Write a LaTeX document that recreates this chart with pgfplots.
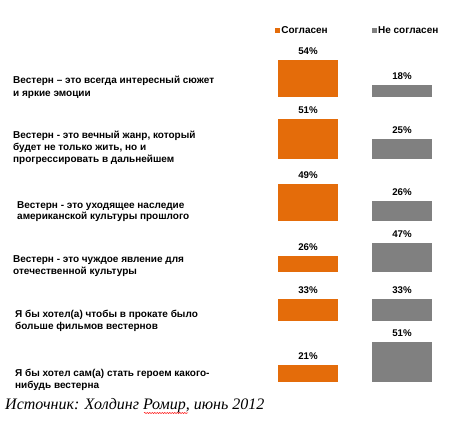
\documentclass[border=0pt]{standalone}
\usepackage{fontspec}
\setmainfont{Liberation Sans}
\newfontfamily\srcfont{Liberation Serif}
\usepackage{pgfplots}
\pgfplotsset{compat=1.18}
\usetikzlibrary{decorations.pathmorphing}
\definecolor{agree}{RGB}{228,108,10}
\definecolor{disagree}{RGB}{128,128,128}
\newcommand\lbl{\bfseries\fontsize{10bp}{12bp}\selectfont}
\pgfplotsset{
 rowbars/.style={
  ybar, bar shift=0pt, bar width=60bp,
  x=94bp, y=#1bp,
  xmin=-0.5, xmax=1.5, ymin=0, ymax=60,
  hide axis, clip=false, anchor=origin,
  /pgf/number format/assume math mode=true,
  nodes near coords={\pgfmathprintnumber{\pgfplotspointmeta}\%},
  nodes near coords style={font=\bfseries\fontsize{9.7bp}{11bp}\selectfont, anchor=base, inner sep=0pt, yshift=5.5bp, text=black},
  every axis plot/.append style={draw=none},
 },
}
\begin{document}
\begin{tikzpicture}
\useasboundingbox (0,0) rectangle (454bp,426bp);
% row 1
\begin{axis}[rowbars=0.678, at={(308bp,329bp)},
  legend columns=2,
  legend image code/.code={\fill[#1] (0bp,-2.5bp) rectangle (5bp,2.5bp);},
  legend style={draw=none, fill=none, inner sep=0pt, at={(0.0745,1.635)}, anchor=west,
    font=\bfseries\fontsize{10bp}{12bp}\selectfont, nodes={inner sep=1.2bp},
    /tikz/every even column/.append style={column sep=43bp}},
  legend cell align=left]
\addplot[fill=agree] coordinates {(0,54)};
\addplot[fill=disagree] coordinates {(1,18)};
\legend{Согласен, Не согласен}
\end{axis}
% row 2
\begin{axis}[rowbars=0.786, at={(308bp,267bp)}]
\addplot[fill=agree] coordinates {(0,51)};
\addplot[fill=disagree] coordinates {(1,25)};
\end{axis}
% row 3
\begin{axis}[rowbars=0.765, at={(308bp,205bp)}]
\addplot[fill=agree] coordinates {(0,49)};
\addplot[fill=disagree] coordinates {(1,26)};
\end{axis}
% row 4
\begin{axis}[rowbars=0.615, at={(308bp,154bp)}]
\addplot[fill=agree] coordinates {(0,26)};
\addplot[fill=disagree] coordinates {(1,47)};
\end{axis}
% row 5
\begin{axis}[rowbars=0.667, at={(308bp,105bp)}]
\addplot[fill=agree] coordinates {(0,33)};
\addplot[fill=disagree] coordinates {(1,33)};
\end{axis}
% row 6
\begin{axis}[rowbars=0.794, at={(308bp,44bp)}]
\addplot[fill=agree] coordinates {(0,21)};
\addplot[fill=disagree] coordinates {(1,51)};
\end{axis}
% statements
\begin{scope}[every node/.style={anchor=base west, inner sep=0pt, font=\lbl}]
\node at (13bp,342.5bp) {Вестерн – это всегда интересный сюжет};
\node at (13bp,329.5bp) {и яркие эмоции};
\node at (13bp,287.5bp) {Вестерн - это вечный жанр, который};
\node at (13bp,275.5bp) {будет не только жить, но и};
\node at (13bp,263.5bp) {прогрессировать в дальнейшем};
\node at (17bp,217.5bp) {Вестерн - это уходящее наследие};
\node at (17bp,206bp) {американской культуры прошлого};
\node at (13bp,163.5bp) {Вестерн - это чуждое явление для};
\node at (13bp,151bp) {отечественной культуры};
\node at (15bp,108.5bp) {Я бы хотел(а) чтобы в прокате было};
\node at (15bp,96bp) {больше фильмов вестернов};
\node at (15bp,49.5bp) {Я бы хотел сам(а) стать героем какого-};
\node at (15bp,37.5bp) {нибудь вестерна};
\end{scope}
\node[anchor=base west, inner sep=0pt, font=\srcfont\itshape\fontsize{16bp}{18bp}\selectfont] at (5bp,17bp) {Источник: Холдинг Ромир, июнь 2012};
\draw[red, line width=0.5bp, decorate, decoration={snake, amplitude=0.6bp, segment length=2.5bp}] (144bp,13bp) -- (188bp,13bp);
\end{tikzpicture}
\end{document}
